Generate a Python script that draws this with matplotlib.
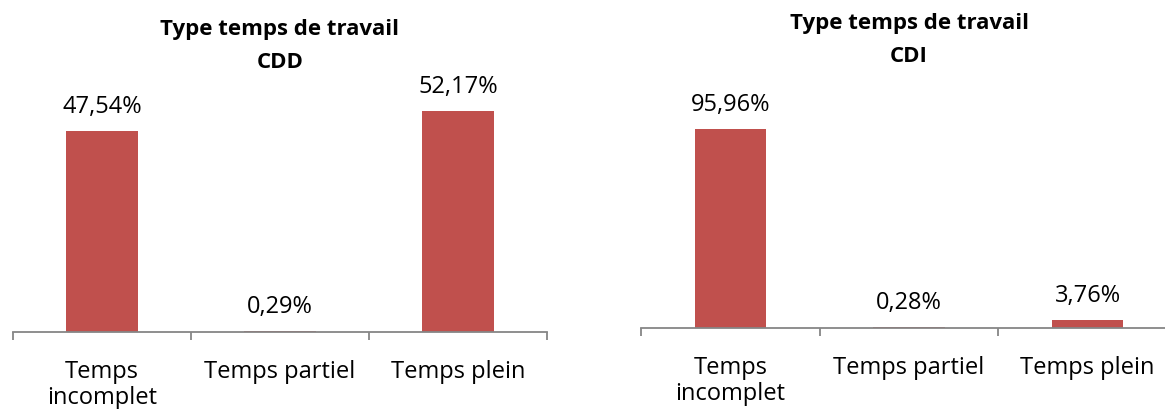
import matplotlib.pyplot as plt
import numpy as np

# categories and values (percent)
categories = ['Temps\nincomplet', 'Temps partiel', 'Temps plein']
cdd_values = [47.54, 0.29, 52.17]
cdi_values = [95.96, 0.28, 3.76]
titles = [('Type temps de travail', 'CDD'), ('Type temps de travail', 'CDI')]

plt.rcParams['font.family'] = ['Open Sans', 'DejaVu Sans']

bar_color = '#C0504D'
axis_color = '#868686'
W, H = 1165, 409

fig = plt.figure(figsize=(W / 100, H / 100), dpi=100)

# axes boxes in pixels: left, baseline, right, px per percent, ymax
layout = [
    (13, 332, 547, 4.235, 60),
    (641, 328, 1177, 2.077, 120),
]
title_y = [(30, 62), (23, 56)]

for k, (values, (x0, base, x1, ppu, ymax)) in enumerate(zip([cdd_values, cdi_values], layout)):
    h_px = ymax * ppu
    ax = fig.add_axes([x0 / W, (H - base) / H, (x1 - x0) / W, h_px / H])
    x = np.arange(len(categories))
    ax.bar(x, values, width=0.4, color=bar_color, edgecolor='none')
    ax.set_xlim(-0.5, 2.5)
    ax.set_ylim(0, ymax)

    for s in ['top', 'right', 'left']:
        ax.spines[s].set_visible(False)
    ax.spines['bottom'].set_color(axis_color)
    ax.spines['bottom'].set_linewidth(1.3)
    ax.set_yticks([])

    ax.set_xticks(x)
    ax.set_xticklabels(categories, fontsize=17, linespacing=1.15)
    ax.set_xticks([-0.5, 0.5, 1.5, 2.5], minor=True)
    ax.tick_params(axis='x', which='major', length=0, pad=20)
    ax.tick_params(axis='x', which='minor', length=6, width=1.3, color=axis_color)

    for xi, v in zip(x, values):
        ax.annotate(f'{v:.2f}'.replace('.', ',') + '%', (xi, v),
                    xytext=(0, 13), textcoords='offset points',
                    ha='center', va='baseline', fontsize=17, color='#000000')

    xc = ((x0 + x1) / 2) / W
    t1, t2 = titles[k]
    fig.text(xc, 1 - title_y[k][0] / H, t1, ha='center', va='center',
             fontsize=16, fontweight='bold')
    fig.text(xc, 1 - title_y[k][1] / H, t2, ha='center', va='center',
             fontsize=16, fontweight='bold')

plt.savefig('out.png', dpi=100)
